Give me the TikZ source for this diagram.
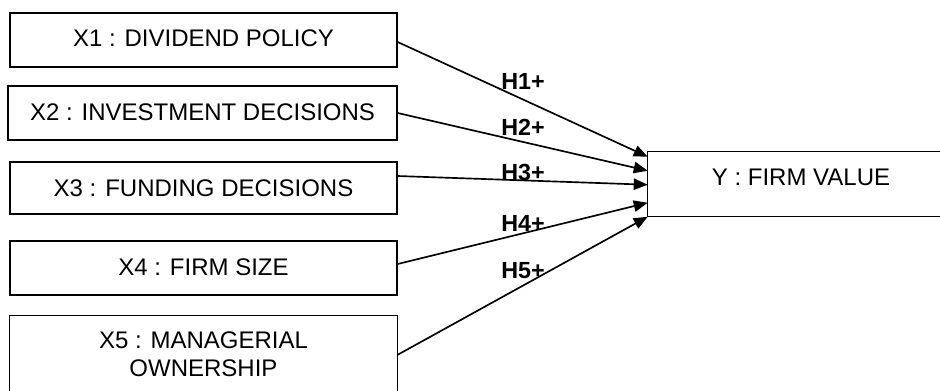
\documentclass[tikz,border=0pt]{standalone}
\usepackage{fontspec}
\setmainfont{Liberation Sans}
\usetikzlibrary{arrows.meta}
\tikzset{
  box/.style={draw=black, line width=1pt, inner sep=0pt, fill=white},
  openbox/.style={draw=none, inner sep=0pt},
  boxline/.style={draw=black, line width=1pt},
  txt/.style={inner sep=0pt, font=\fontsize{18}{21}\selectfont, align=center},
  hyp/.style={inner sep=0pt, anchor=base west, font=\fontsize{17.5}{21}\selectfont\bfseries},
  link/.style={line width=1.25pt, -{Triangle[length=10.5pt,width=8.5pt]}}
}
\begin{document}
\begin{tikzpicture}[x=0.75pt,y=-0.75pt]
\useasboundingbox (0,0) rectangle (940,390);
\fill[white] (0,0) rectangle (940,390);
% boxes
\node[box, minimum width=290.25pt, minimum height=40.5pt] (x1) at (203.5,40) {};
\node[box, minimum width=291.75pt, minimum height=40.5pt] (x2) at (202.5,113) {};
\node[box, minimum width=290.25pt, minimum height=39pt] (x3) at (203.5,188) {};
\node[box, minimum width=290.25pt, minimum height=40.5pt] (x4) at (203.5,268) {};
\node[openbox, minimum width=290.25pt, minimum height=60pt] (x5) at (203.5,356) {};
\draw[boxline] (x5.south west) |- (x5.north east) -- (x5.south east);
\node[openbox, minimum width=232.5pt, minimum height=48pt] (y) at (803,184) {};
\draw[boxline] (y.north east) -| (y.south west) -- (y.south east);
% texts
\node[txt, anchor=base] (t1) at (203.5,46.5) {X1 : DIVIDEND POLICY};
\node[txt, anchor=base] (t2) at (202.5,120) {X2 : INVESTMENT DECISIONS};
\node[txt, anchor=base] (t3) at (203.5,196) {X3 : FUNDING DECISIONS};
\node[txt, anchor=base] (t4) at (203.5,275) {X4 : FIRM SIZE};
\node[txt, anchor=center] (t5) at (203.5,354) {X5 : MANAGERIAL\\OWNERSHIP};
\node[txt, anchor=base] (ty) at (801,185) {Y : FIRM VALUE};
% connectors
\draw[link] ([yshift=-1.5pt]x1.east) -- ([yshift=-3.75pt]y.north west);
\draw[link] (x2.east) -- ([yshift=-14.25pt]y.north west);
\draw[link] ([yshift=9pt]x3.east) -- ([yshift=-24.75pt]y.north west);
\draw[link] ([yshift=3pt]x4.east) -- ([yshift=-38.25pt]y.north west);
\draw[link] ([yshift=0.75pt]x5.east) -- ([yshift=-48.75pt]y.north west);
% hypothesis labels
\node[hyp] (h1) at (501,89) {H1+};
\node[hyp] (h2) at (501,135) {H2+};
\node[hyp] (h3) at (501,180) {H3+};
\node[hyp] (h4) at (501,231) {H4+};
\node[hyp] (h5) at (501,278) {H5+};
\end{tikzpicture}
\end{document}
